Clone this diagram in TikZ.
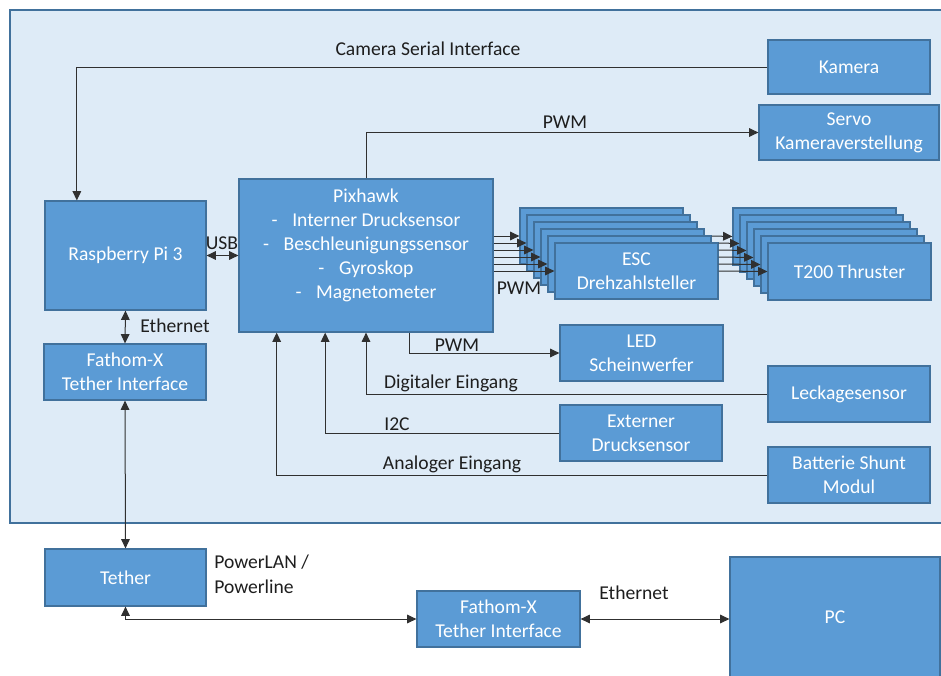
\documentclass[tikz,border=0pt]{standalone}
\usepackage{fontspec}
\setmainfont{Carlito}
\usepackage{tikz}
\usetikzlibrary{arrows.meta,positioning,calc}
\definecolor{cBox}{HTML}{5B9BD5}
\definecolor{cEdge}{HTML}{41719C}
\definecolor{cPanel}{HTML}{DEEBF7}
\definecolor{cLine}{HTML}{303030}
\definecolor{cText}{HTML}{1E1E1E}
\tikzset{
  blk/.style={draw=cEdge, line width=0.9pt, fill=cBox, text=white, align=center,
              inner sep=0pt, font=\fontsize{14.7}{18}\selectfont},
  sz/.style 2 args={minimum width=#1*0.75pt, minimum height=#2*0.75pt},
  lbl/.style={font=\fontsize{14.7}{18.5}\selectfont, text=cText, inner sep=0pt, align=left},
  arr/.style={-{Triangle[length=7pt,width=6.5pt]}, line width=0.75pt, cLine},
  dbl/.style={{Triangle[length=7pt,width=6.5pt]}-{Triangle[length=7pt,width=6.5pt]},
              line width=0.75pt, cLine}
}

\begin{document}
\begin{tikzpicture}[x=0.75pt, y=-0.75pt]
\useasboundingbox (0,0) rectangle (941,675);
% ROV housing
\draw[cEdge, line width=1pt, fill=cPanel] (950,10) -- (10,10) -- (10,523) -- (950,523);
% boxes inside
\node[blk, sz={162}{54}] (kamera) at (849,67) {Kamera};
\node[blk, sz={180}{55}] (servo) at (849,132.5) {Servo\\Kameraverstellung};
\node[blk, sz={161}{109}] (rpi) at (125.5,255.5) {Raspberry Pi 3};
\node[blk, sz={162}{56}] (fathomA) at (125,372) {Fathom-X\\Tether Interface};
\node[blk, sz={254}{153}] (pix) at (366,255.5) {};
\node[lbl, text=white, align=center, font=\fontsize{14.7}{18}\selectfont] (pixtxt) at (366,245)
  {Pixhawk\\-\hspace{0.75em}Interner Drucksensor\\-\hspace{0.75em}Beschleunigungssensor\\
   -\hspace{0.75em}Gyroskop\\-\hspace{0.75em}Magnetometer};
\foreach \i in {0,...,4}
  \node[blk, sz={163}{56}] (esc\i) at (601.5+7*\i,236+7*\i) {};
\node[blk, sz={163}{56}] (esc5) at (636.5,271) {ESC\\Drehzahlsteller};
\foreach \i in {0,...,4}
  \node[blk, sz={163}{57}] (thr\i) at (814.5+7*\i,236.5+7*\i) {};
\node[blk, sz={163}{57}] (thr5) at (849.5,271.5) {T200 Thruster};
\node[blk, sz={163}{56}] (led) at (641.5,353) {LED\\Scheinwerfer};
\node[blk, sz={162}{56}] (leck) at (849,394) {Leckagesensor};
\node[blk, sz={162}{56}] (extd) at (641,433) {Externer\\Drucksensor};
\node[blk, sz={162}{56}] (batt) at (849,475) {Batterie Shunt\\Modul};
% boxes outside
\node[blk, sz={161}{57}] (tether) at (125.5,577.5) {Tether};
\node[blk, sz={163}{56}] (fathomB) at (498.5,619) {Fathom-X\\Tether Interface};
\node[blk, sz={210}{121}] (pc) at (835,617.5) {PC};

% connectors
\draw[arr] (kamera.west) -| ($(rpi.north west)!0.2!(rpi.north east)$);
\draw[arr] (pix.north) |- (servo.west);
\draw[dbl] (rpi.east) -- (pix.west |- rpi.east);
\draw[dbl] (rpi.south) -- (fathomA.north);
\draw[dbl] (fathomA.south) -- (tether.north);
\draw[dbl] (tether.south) |- (fathomB.west);
\draw[dbl] (fathomB.east) -- (pc.west |- fathomB.east);
\foreach \i in {0,...,5}
  \draw[arr] (pix.east |- esc\i.west) -- (esc\i.west);
\foreach \i/\j in {0/4,1/5,2/5,3/5,4/5,5/5}
  \draw[arr] (esc\j.east |- esc\i.east) -- (thr\i.west);
\draw[arr] ($(pix.south west)!0.67!(pix.south east)$) |- (led.west);
\draw[arr] (leck.west) -| (pix.south);
\draw[arr] (extd.west) -| ($(pix.south west)!0.34!(pix.south east)$);
\draw[arr] (batt.west) -| ($(pix.south west)!0.15!(pix.south east)$);

% labels
\node[lbl] (lcsi) at (428,49) {Camera Serial Interface};
\node[lbl] (lpwmA) at (565,122) {PWM};
\node[lbl] (lusb) at (222,243) {USB};
\node[lbl] (lethA) at (175,326) {Ethernet};
\node[lbl] (lpwmB) at (519,288) {PWM};
\node[lbl] (lpwmC) at (457,345) {PWM};
\node[lbl] (ldig) at (451,383) {Digitaler Eingang};
\node[lbl] (li2c) at (397,424) {I2C};
\node[lbl] (lana) at (452,464) {Analoger Eingang};
\node[lbl, anchor=west] (lplc) at (214,574.5) {PowerLAN /\\Powerline};
\node[lbl] (lethB) at (634,593) {Ethernet};
\end{tikzpicture}
\end{document}
